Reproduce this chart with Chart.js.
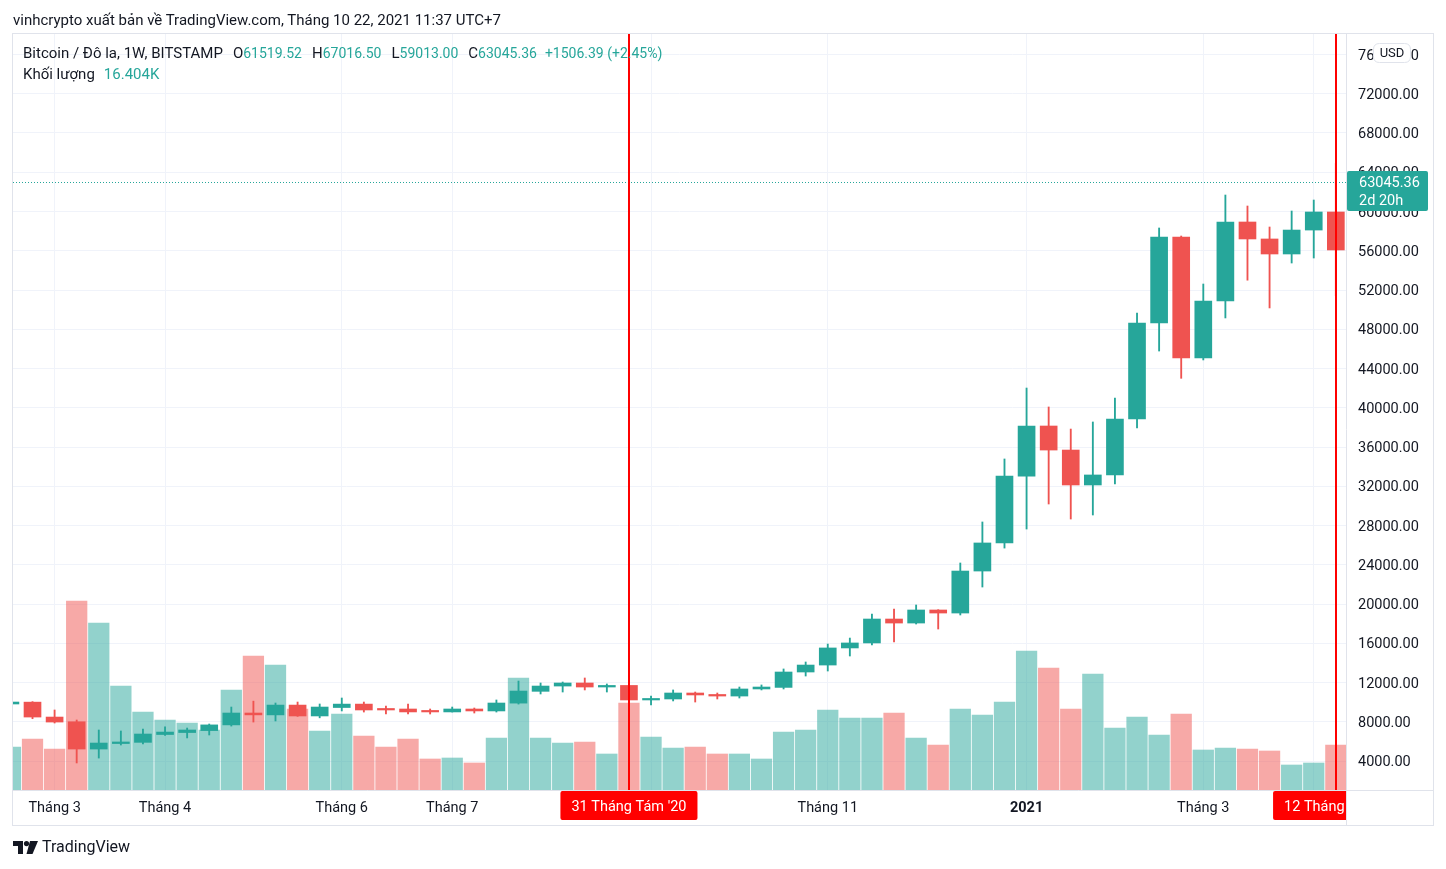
<!DOCTYPE html>
<html><head><meta charset="utf-8">
<script src="https://cdn.jsdelivr.net/npm/chart.js@4.4.0/dist/chart.umd.min.js"></script>
<style>
html,body{margin:0;padding:0;background:#fff;width:1446px;height:869px;overflow:hidden;font-family:Roboto,"Noto Sans",sans-serif;color:#131722;}
#wrap{position:relative;width:1446px;height:869px;}
canvas{position:absolute;left:0;top:0;}
.txt{position:absolute;white-space:nowrap;font-size:15px;line-height:18px;color:#131722;}
.s{font-size:14px}
.g{color:#26a69a}
</style></head><body>
<div id="wrap">
<canvas id="c" width="1446" height="869"></canvas>
<div class="txt" style="left:13px;top:11px;">vinhcrypto xuất bản về TradingView.com, Tháng 10 22, 2021 11:37 UTC+7</div>
<div class="txt" style="left:23px;top:44px;"><span>Bitcoin / Đô la, 1W, BITSTAMP</span><span style="margin-left:10px">O</span><span class="g s">61519.52</span><span style="margin-left:10px">H</span><span class="g s">67016.50</span><span style="margin-left:10px">L</span><span class="g s">59013.00</span><span style="margin-left:10px">C</span><span class="g s">63045.36</span><span class="g s" style="margin-left:8px">+1506.39 (+2.45%)</span></div>
<div class="txt" style="left:23px;top:65px;"><span>Khối lượng</span><span class="g" style="margin-left:9px">16.404K</span></div>
<div class="txt" style="left:13px;top:838px;font-size:16px;line-height:18px;display:flex;align-items:center;">
<svg width="25" height="13" viewBox="0 0 25 13" style="margin-right:4px"><path d="M0 0H10V13H5V5H0Z" fill="#131722"/><circle cx="13.5" cy="2.6" r="2.6" fill="#131722"/><path d="M17 0H25L19.5 13H13.5Z" fill="#131722"/></svg><span>TradingView</span></div>
</div>
<script>
const weeks = ['2020-02-17','2020-02-24','2020-03-02','2020-03-09','2020-03-16','2020-03-23','2020-03-30','2020-04-06','2020-04-13','2020-04-20','2020-04-27','2020-05-04','2020-05-11','2020-05-18','2020-05-25','2020-06-01','2020-06-08','2020-06-15','2020-06-22','2020-06-29','2020-07-06','2020-07-13','2020-07-20','2020-07-27','2020-08-03','2020-08-10','2020-08-17','2020-08-24','2020-08-31','2020-09-07','2020-09-14','2020-09-21','2020-09-28','2020-10-05','2020-10-12','2020-10-19','2020-10-26','2020-11-02','2020-11-09','2020-11-16','2020-11-23','2020-11-30','2020-12-07','2020-12-14','2020-12-21','2020-12-28','2021-01-04','2021-01-11','2021-01-18','2021-01-25','2021-02-01','2021-02-08','2021-02-15','2021-02-22','2021-03-01','2021-03-08','2021-03-15','2021-03-22','2021-03-29','2021-04-05','2021-04-12'];
const openP = [9810,10000,8480,8000,5220,5780,5900,6700,6900,7100,7680,8890,8700,9700,8590,9450,9800,9300,9300,9100,9000,9300,9100,9900,11100,11640,11950,11540,11700,10220,10320,10930,10780,10620,11340,11500,13070,13780,15520,16030,18470,18060,19390,19080,23360,26220,33040,38140,35690,32130,33150,38850,48640,57400,45070,50880,58930,57200,55670,58110,59950];
const highP = [10050,10050,9200,8180,7160,7060,7260,7470,7360,7770,9500,10100,9910,10010,9810,10420,10010,9600,9800,9300,9500,9400,10220,12150,11950,12050,12460,11850,12050,10620,11240,11030,10930,11540,11750,13380,14090,15920,16530,18980,19490,19900,19420,24180,28360,34780,42010,40080,37830,38550,40990,49660,58320,57500,52610,61680,60560,58420,60050,61170,64940];
const lowP = [9760,8310,7870,3800,4300,5630,5730,6600,6350,6650,7560,7970,8080,8550,8400,9100,8990,8800,8800,8790,8990,8890,8990,9800,10830,11030,11240,11030,9880,9710,10120,10010,10320,10420,11240,11340,12660,13170,14700,15820,16130,17960,17450,18880,21730,25700,27640,30190,28660,29070,32230,37940,45780,43000,44870,49150,53000,50170,54750,55260,51400];
const closeP = [10010,8480,7970,5220,5830,5940,6750,6950,7160,7680,8890,8700,9700,8590,9500,9800,9200,9200,9000,9000,9300,9100,9910,11130,11640,11950,11540,11700,10220,10320,10930,10730,10620,11340,11540,13070,13780,15520,16030,18470,18060,19390,19080,23360,26220,33040,38140,35690,32130,33150,38850,48640,57400,45070,50880,58930,57200,55670,58110,59950,56080];
const volumeK = [8.6,10.2,8.2,37.8,33.4,20.8,15.6,14.0,13.4,12.0,20.0,26.8,25.0,16.2,11.8,15.2,10.8,8.6,10.2,6.2,6.4,5.4,10.4,22.4,10.4,9.4,9.6,7.2,17.4,10.6,8.4,8.6,7.2,7.2,6.2,11.6,12.0,16.0,14.4,14.4,15.4,10.4,9.0,16.2,15.0,17.6,27.8,24.4,16.2,23.2,12.4,14.6,11.0,15.2,8.0,8.4,8.2,7.8,5.0,5.4,9.0];
const priceTicks = [4000,8000,12000,16000,20000,24000,28000,32000,36000,40000,44000,48000,52000,56000,60000,64000,68000,72000,76000];
const timeTickDates = ['2020-03-02','2020-04-06','2020-06-01','2020-07-06','2020-09-07','2020-11-02','2021-01-04','2021-03-01','2021-04-05'];
const timeTickLabels = ['Tháng 3','Tháng 4','Tháng 6','Tháng 7','','Tháng 11','2021','Tháng 3',''];
const boldTickLabels = ['2021'];
const markerDates = ['2020-08-31','2021-04-12'];
const markerLabels = ["31 Tháng Tám '20","12 Tháng Tư '21"];
const lastPrice = 63045.36;
const countdownText = '2d 20h';
const currencyText = 'USD';

const UP='#26a69a', DN='#ef5350', UPV='rgba(38,166,154,0.5)', DNV='rgba(239,83,80,0.5)';
const FONT='Roboto, "Noto Sans", sans-serif';
const isUp = openP.map((o,i)=>closeP[i]>=o);
const tickIdx = timeTickDates.map(d=>weeks.indexOf(d));
const labelOf = v => { const k = tickIdx.indexOf(Math.round(v)); return k<0 ? '' : timeTickLabels[k]; };

function rrect(ctx,x,y,w,h,r){ctx.beginPath();ctx.moveTo(x+r,y);ctx.lineTo(x+w-r,y);ctx.quadraticCurveTo(x+w,y,x+w,y+r);ctx.lineTo(x+w,y+h-r);ctx.quadraticCurveTo(x+w,y+h,x+w-r,y+h);ctx.lineTo(x+r,y+h);ctx.quadraticCurveTo(x,y+h,x,y+h-r);ctx.lineTo(x,y+r);ctx.quadraticCurveTo(x,y,x+r,y);ctx.closePath();}

const overlay = {
  id:'overlay',
  beforeDatasetsDraw(chart){
    const {ctx, chartArea:a, scales} = chart;
    const py = Math.round(scales.y.getPixelForValue(lastPrice))+0.5;
    ctx.save(); ctx.strokeStyle=UP; ctx.lineWidth=1; ctx.setLineDash([1,2]);
    ctx.beginPath(); ctx.moveTo(a.left,py); ctx.lineTo(a.right,py); ctx.stroke(); ctx.restore();
  },
  afterDatasetsDraw(chart){
    const {ctx, chartArea:a, scales:{x}} = chart;
    ctx.save(); ctx.fillStyle='#ff0000';
    markerDates.forEach(d=>{const px=Math.round(x.getPixelForValue(weeks.indexOf(d))); ctx.fillRect(px-1,a.top,2,a.bottom-a.top);});
    ctx.restore();
  },
  afterDraw(chart){
    const {ctx, chartArea:a, scales:{x,y}} = chart;
    const L=a.left-0.5, T=a.top-0.5, R=a.right+87.5, B=a.bottom+35.5;
    ctx.save();
    ctx.strokeStyle='#e0e3eb'; ctx.lineWidth=1;
    ctx.strokeRect(L,T,R-L,B-T);
    ctx.beginPath(); ctx.moveTo(a.right+0.5,T); ctx.lineTo(a.right+0.5,B);
    ctx.moveTo(L,a.bottom+0.5); ctx.lineTo(R,a.bottom+0.5); ctx.stroke();
    ctx.save(); ctx.beginPath(); ctx.rect(a.left,a.bottom+1,a.right-a.left,40); ctx.clip();
    ctx.font='14.5px '+FONT; ctx.textAlign='center'; ctx.textBaseline='middle';
    markerDates.forEach((d,k)=>{
      const px=x.getPixelForValue(weeks.indexOf(d));
      const w=ctx.measureText(markerLabels[k]).width+22;
      ctx.fillStyle='#ff0000'; rrect(ctx,px-w/2,a.bottom+1,w,29,2); ctx.fill();
      ctx.fillStyle='#ffffff'; ctx.fillText(markerLabels[k],px,a.bottom+17.5);
    });
    ctx.restore();
    const py=y.getPixelForValue(lastPrice);
    ctx.fillStyle=UP; rrect(ctx,a.right+1,py-10.5,81,40,2); ctx.fill();
    ctx.fillStyle='#ffffff'; ctx.font='14.5px '+FONT; ctx.textAlign='left'; ctx.textBaseline='middle';
    ctx.fillText(lastPrice.toFixed(2),a.right+13,py+2);
    ctx.fillText(countdownText,a.right+13,py+20);
    ctx.fillStyle='#ffffff'; ctx.strokeStyle='#e0e3eb'; rrect(ctx,a.right+27.5,a.top+9.5,37,19,6); ctx.fill(); ctx.stroke();
    ctx.fillStyle='#131722'; ctx.font='13px '+FONT; ctx.textAlign='center';
    ctx.fillText(currencyText,a.right+46,a.top+19.5);
    ctx.restore();
  }
};

new Chart(document.getElementById('c'), {
  type:'bar',
  data:{datasets:[
    {label:'Khối lượng', data:weeks.map((w,i)=>({x:i,y:volumeK[i]})), yAxisID:'v', backgroundColor:isUp.map(u=>u?UPV:DNV), barThickness:20.6, order:3, grouped:false, borderWidth:0},
    {label:'Bấc', data:weeks.map((w,i)=>({x:i,y:[lowP[i],highP[i]]})), yAxisID:'y', backgroundColor:isUp.map(u=>u?UP:DN), barThickness:1.2, order:2, grouped:false, borderWidth:0},
    {label:'Thân', data:weeks.map((w,i)=>({x:i,y:[openP[i],closeP[i]]})), yAxisID:'y', backgroundColor:isUp.map(u=>u?UP:DN), barThickness:17, minBarLength:1.5, order:1, grouped:false, borderWidth:0}
  ]},
  options:{
    responsive:false, animation:false, devicePixelRatio:1,
    layout:{padding:{left:13,right:13,top:34,bottom:44}},
    plugins:{legend:{display:false}, tooltip:{enabled:false}},
    scales:{
      x:{type:'linear', min:0.117, max:60.46, offset:false,
         grid:{offset:false, color:'#f0f3fa', drawTicks:false}, border:{display:false},
         afterBuildTicks:s=>{s.ticks=tickIdx.map(v=>({value:v}));},
         afterFit:s=>{s.height=35;},
         ticks:{autoSkip:false, maxRotation:0, minRotation:0, padding:10, color:'#131722',
           font:c=>({family:FONT, size:14.5, weight: boldTickLabels.includes(labelOf(c.tick?c.tick.value:-1))?'bold':'normal'}),
           callback:v=>labelOf(v)}},
      y:{position:'right', min:1045, max:78089,
         grid:{color:'#f0f3fa', drawTicks:false}, border:{display:false},
         afterBuildTicks:s=>{s.ticks=priceTicks.map(v=>({value:v}));},
         afterFit:s=>{s.width=87;},
         ticks:{padding:12, labelOffset:1.5, color:'#131722', font:{family:FONT,size:14.5}, callback:v=>Number(v).toFixed(2)}},
      v:{display:false, position:'left', min:0, max:151.2}
    }
  },
  plugins:[overlay]
});
</script>
</body></html>
